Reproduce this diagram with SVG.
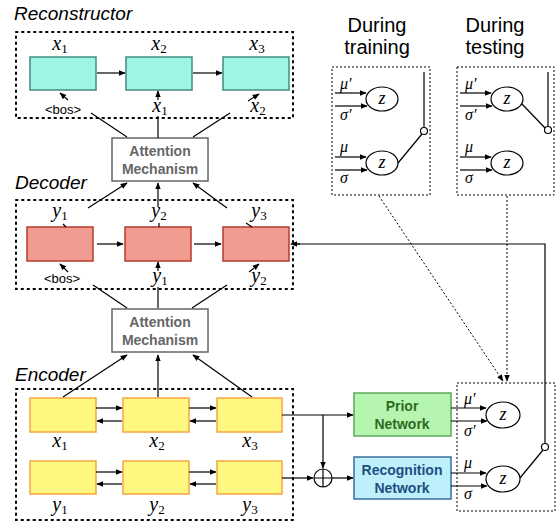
<svg xmlns="http://www.w3.org/2000/svg" width="560" height="522" viewBox="0 0 560 522">
<defs>
<marker id="ah" viewBox="0 0 10 10" refX="9" refY="5" markerWidth="7" markerHeight="7" markerUnits="userSpaceOnUse" orient="auto"><path d="M0,1 L10,5 L0,9 z" fill="#000"/></marker>
</defs>
<style>
.grp{fill:none;stroke:#000;stroke-width:2;stroke-dasharray:1.5 4.5;stroke-linecap:round}
.dash{fill:none;stroke:#000;stroke-width:1;stroke-dasharray:2 2}
.ln{fill:none;stroke:#000;stroke-width:1.2}
.ar{fill:none;stroke:#000;stroke-width:1.2;marker-end:url(#ah)}
.dar{fill:none;stroke:#000;stroke-width:1;stroke-dasharray:2 2;marker-end:url(#ah)}
.cy{fill:#9ef5e6;stroke:#3f8c82;stroke-width:1.5}
.rd{fill:#f19c91;stroke:#b83a2c;stroke-width:1.5}
.yl{fill:#fff880;stroke:#f5a640;stroke-width:1.5}
.att{fill:#fff;stroke:#666;stroke-width:1.5}
.att-t{font-family:"Liberation Sans",Arial,sans-serif;font-weight:bold;font-size:14px;fill:#666;text-anchor:middle}
.title{font-family:"Liberation Sans",Arial,sans-serif;font-style:italic;font-size:19px;fill:#000}
.hd{font-family:"Liberation Sans",Arial,sans-serif;font-size:20px;fill:#000;text-anchor:middle}
.m{font-family:"Liberation Serif","DejaVu Serif",serif;font-style:italic;font-size:20px;fill:#000;text-anchor:middle}
.ms{font-family:"Liberation Serif","DejaVu Serif",serif;font-style:italic;font-size:16px;fill:#000}
.sub{font-style:normal;font-size:13px}
.bos{font-family:"Liberation Sans",Arial,sans-serif;font-size:13px;fill:#000;text-anchor:middle}
.circ{fill:#fff;stroke:#000;stroke-width:1.2}
.z{font-family:"Liberation Serif","DejaVu Serif",serif;font-style:italic;font-size:18px;fill:#000;text-anchor:middle}
</style>

<!-- Group titles -->
<text class="title" x="14" y="20">Reconstructor</text>
<text class="title" x="15" y="189">Decoder</text>
<text class="title" x="15" y="381">Encoder</text>
<text class="hd" x="377" y="32">During</text>
<text class="hd" x="377" y="54">training</text>
<text class="hd" x="495" y="32">During</text>
<text class="hd" x="495" y="54">testing</text>

<!-- Group frames -->
<rect class="grp" x="16" y="32" width="277" height="86"/>
<rect class="grp" x="16" y="200" width="277" height="89"/>
<rect class="grp" x="16" y="389" width="277" height="131"/>
<rect class="dash" x="332" y="67" width="98" height="128"/>
<rect class="dash" x="457" y="67" width="97" height="128"/>
<rect class="dash" x="457" y="383" width="98" height="128"/>

<!-- Reconstructor nodes -->
<g id="rec1"><rect class="cy" x="30" y="57" width="66" height="33"/><text class="m" x="60" y="50">x<tspan class="sub" dy="3">1</tspan></text></g>
<g id="rec2"><rect class="cy" x="126" y="57" width="66" height="33"/><text class="m" x="159" y="50">x<tspan class="sub" dy="3">2</tspan></text></g>
<g id="rec3"><rect class="cy" x="223" y="57" width="66" height="33"/><text class="m" x="257" y="50">x<tspan class="sub" dy="3">3</tspan></text></g>
<g id="rec-in"><text class="bos" x="63" y="114">&lt;bos&gt;</text><text class="m" x="160" y="112">x<tspan class="sub" dy="3">1</tspan></text><text class="m" x="258" y="112">x<tspan class="sub" dy="3">2</tspan></text></g>

<!-- Attention 1 -->
<g id="att1"><rect class="att" x="112" y="138" width="96" height="43"/><text class="att-t" x="160" y="156">Attention</text><text class="att-t" x="160" y="174">Mechanism</text></g>

<!-- Decoder nodes -->
<g id="dec1"><rect class="rd" x="27" y="227" width="66" height="34"/><text class="m" x="60" y="217">y<tspan class="sub" dy="3">1</tspan></text></g>
<g id="dec2"><rect class="rd" x="125" y="227" width="66" height="34"/><text class="m" x="159" y="217">y<tspan class="sub" dy="3">2</tspan></text></g>
<g id="dec3"><rect class="rd" x="223" y="227" width="66" height="34"/><text class="m" x="259" y="217">y<tspan class="sub" dy="3">3</tspan></text></g>
<g id="dec-in"><text class="bos" x="62" y="283">&lt;bos&gt;</text><text class="m" x="160" y="282">y<tspan class="sub" dy="3">1</tspan></text><text class="m" x="259" y="282">y<tspan class="sub" dy="3">2</tspan></text></g>

<!-- Attention 2 -->
<g id="att2"><rect class="att" x="112" y="309" width="96" height="43"/><text class="att-t" x="160" y="327">Attention</text><text class="att-t" x="160" y="345">Mechanism</text></g>

<!-- Encoder nodes -->
<g id="encx1"><rect class="yl" x="30" y="398" width="66" height="34"/><text class="m" x="60" y="447">x<tspan class="sub" dy="3">1</tspan></text></g>
<g id="encx2"><rect class="yl" x="123" y="398" width="66" height="34"/><text class="m" x="157" y="447">x<tspan class="sub" dy="3">2</tspan></text></g>
<g id="encx3"><rect class="yl" x="217" y="398" width="65" height="34"/><text class="m" x="250" y="447">x<tspan class="sub" dy="3">3</tspan></text></g>
<g id="ency1"><rect class="yl" x="30" y="461" width="66" height="33"/><text class="m" x="60" y="511">y<tspan class="sub" dy="3">1</tspan></text></g>
<g id="ency2"><rect class="yl" x="123" y="461" width="66" height="33"/><text class="m" x="157" y="511">y<tspan class="sub" dy="3">2</tspan></text></g>
<g id="ency3"><rect class="yl" x="217" y="461" width="65" height="33"/><text class="m" x="250" y="511">y<tspan class="sub" dy="3">3</tspan></text></g>

<!-- Prior / Recognition -->
<g id="prior"><rect x="354" y="393" width="97" height="43" fill="#b6f5b0" stroke="#5aa858" stroke-width="1.5"/><text x="402" y="411" font-family="Liberation Sans,Arial,sans-serif" font-weight="bold" font-size="14" fill="#2e6b1e" text-anchor="middle">Prior</text><text x="402" y="429" font-family="Liberation Sans,Arial,sans-serif" font-weight="bold" font-size="14" fill="#2e6b1e" text-anchor="middle">Network</text></g>
<g id="recog"><rect x="354" y="457" width="97" height="42" fill="#bdf0fb" stroke="#3b6e9c" stroke-width="1.5"/><text x="402" y="475" font-family="Liberation Sans,Arial,sans-serif" font-weight="bold" font-size="14" fill="#1e4f80" text-anchor="middle">Recognition</text><text x="402" y="493" font-family="Liberation Sans,Arial,sans-serif" font-weight="bold" font-size="14" fill="#1e4f80" text-anchor="middle">Network</text></g>
<g id="oplus"><circle class="circ" cx="323" cy="478" r="9"/><path class="ln" d="M314,478 H332 M323,469 V487"/></g>

<!-- z nodes main -->
<g id="zp"><ellipse class="circ" cx="503" cy="415" rx="17" ry="13"/><text class="z" x="503" y="420">z</text></g>
<g id="zr"><ellipse class="circ" cx="503" cy="479" rx="17" ry="13"/><text class="z" x="503" y="484">z</text></g>
<g id="lbl-main"><text class="ms" x="464" y="404">μ′</text><text class="ms" x="464" y="436">σ′</text><text class="ms" x="464" y="468">μ</text><text class="ms" x="464" y="499">σ</text></g>

<!-- training panel -->
<g id="tr-z1"><ellipse class="circ" cx="382" cy="99" rx="16" ry="12"/><text class="z" x="382" y="104">z</text></g>
<g id="tr-z2"><ellipse class="circ" cx="382" cy="163" rx="16" ry="12"/><text class="z" x="382" y="168">z</text></g>
<g id="tr-lbl"><text class="ms" x="340" y="89">μ′</text><text class="ms" x="340" y="120">σ′</text><text class="ms" x="340" y="152">μ</text><text class="ms" x="340" y="183">σ</text></g>

<!-- testing panel -->
<g id="te-z1"><ellipse class="circ" cx="507" cy="99" rx="16" ry="12"/><text class="z" x="507" y="104">z</text></g>
<g id="te-z2"><ellipse class="circ" cx="507" cy="163" rx="16" ry="12"/><text class="z" x="507" y="168">z</text></g>
<g id="te-lbl"><text class="ms" x="465" y="89">μ′</text><text class="ms" x="465" y="120">σ′</text><text class="ms" x="465" y="152">μ</text><text class="ms" x="465" y="183">σ</text></g>

<g id="connectors">
<!-- reconstructor chain -->
<path class="ar" d="M97,73 H125"/>
<path class="ar" d="M193,73 H222"/>
<path class="ln" d="M127,137 L91,113"/><path class="ar" d="M68,100 L60,93"/>
<path class="ln" d="M158,138 V116"/><path class="ar" d="M158,100 V91"/>
<path class="ln" d="M193,137 L230,113"/><path class="ar" d="M248,101 L259,94"/>
<!-- decoder to attention 1 -->
<path class="ar" d="M88,208 L127,183"/>
<path class="ar" d="M158,207 V183"/>
<path class="ar" d="M227,208 L193,183"/>
<path class="ln" d="M63,224 L66,227"/><path class="ln" d="M159,223 V227"/><path class="ln" d="M246,223 L252,227"/>
<!-- decoder chain -->
<path class="ar" d="M97,244 H123"/>
<path class="ar" d="M194,244 H221"/>
<!-- attention 2 to decoder inputs -->
<path class="ln" d="M127,308 L93,285"/><path class="ar" d="M68,272 L60,264"/>
<path class="ln" d="M158,308 V287"/><path class="ar" d="M158,271 V262"/>
<path class="ln" d="M192,308 L227,285"/><path class="ar" d="M249,272 L259,264"/>
<!-- encoder to attention 2 -->
<path class="ar" d="M63,397 L127,355"/>
<path class="ar" d="M158,397 V355"/>
<path class="ar" d="M252,397 L193,355"/>
<!-- encoder bidirectional -->
<path class="ar" d="M96,408 H122"/><path class="ar" d="M122,421 H97"/>
<path class="ar" d="M189,408 H216"/><path class="ar" d="M216,421 H190"/>
<path class="ar" d="M96,472 H122"/><path class="ar" d="M122,484 H97"/>
<path class="ar" d="M189,472 H216"/><path class="ar" d="M216,484 H190"/>
<!-- to prior / recognition -->
<path class="ar" d="M282,415 H353"/>
<path class="ar" d="M323,415 V468"/>
<path class="ar" d="M282,478 H313"/>
<path class="ar" d="M332,478 H353"/>
<!-- mu sigma arrows main -->
<path class="ar" d="M451,408 H486"/><path class="ar" d="M451,421 H487"/>
<path class="ar" d="M451,473 H486"/><path class="ar" d="M451,486 H487"/>
<!-- switch main -->
<path class="ln" d="M520,478 L543,450"/>
<circle class="circ" cx="545" cy="447" r="3.5"/>
<path class="ln" d="M545,443.5 V244 H293"/>
<path class="ar" d="M300,244 H291"/>
<!-- training panel -->
<path class="ar" d="M335,93 H366"/><path class="ar" d="M335,106 H367"/>
<path class="ar" d="M335,157 H366"/><path class="ar" d="M335,170 H367"/>
<path class="ln" d="M424,72 V127.5"/><circle class="circ" cx="424" cy="131" r="3.5"/>
<path class="ln" d="M422,134 L398,163"/>
<!-- testing panel -->
<path class="ar" d="M460,93 H491"/><path class="ar" d="M460,106 H492"/>
<path class="ar" d="M460,157 H491"/><path class="ar" d="M460,170 H492"/>
<path class="ln" d="M548,72 V126.5"/><circle class="circ" cx="548" cy="130" r="3.5"/>
<path class="ln" d="M545,128 L522,104"/>
<!-- dotted links -->
<path class="dar" d="M379,196 L503,381"/>
<path class="dar" d="M507,196 V381"/>
</g>
</svg>
